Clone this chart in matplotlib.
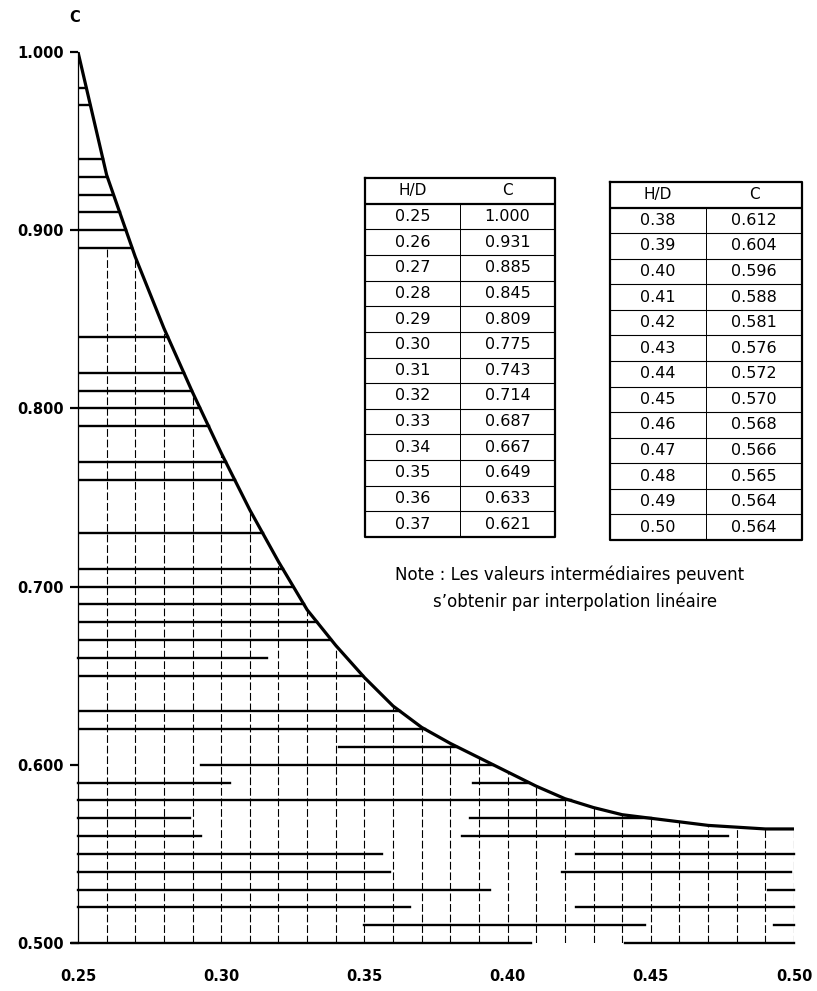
import numpy as np
import matplotlib
matplotlib.use("Agg")
import matplotlib.pyplot as plt

# Coefficient C as a function of H/D (values of the two tables)
HD = [0.25, 0.26, 0.27, 0.28, 0.29, 0.30, 0.31, 0.32, 0.33, 0.34, 0.35, 0.36, 0.37,
      0.38, 0.39, 0.40, 0.41, 0.42, 0.43, 0.44, 0.45, 0.46, 0.47, 0.48, 0.49, 0.50]
C = [1.000, 0.931, 0.885, 0.845, 0.809, 0.775, 0.743, 0.714, 0.687, 0.667, 0.649, 0.633, 0.621,
     0.612, 0.604, 0.596, 0.588, 0.581, 0.576, 0.572, 0.570, 0.568, 0.566, 0.565, 0.564, 0.564]

# hatch lines running from the C axis up to the curve
FULL_LEVELS = [0.98, 0.97, 0.94, 0.93, 0.92, 0.91, 0.90, 0.89, 0.84, 0.82, 0.81, 0.80,
               0.79, 0.77, 0.76, 0.73, 0.71, 0.70, 0.69, 0.68, 0.67, 0.65, 0.63, 0.62]

# broken hatch lines (level, from H/D, to H/D), None = up to the curve
PARTIAL_LEVELS = [
    (0.66, 0.250, 0.316),
    (0.61, 0.341, None),
    (0.60, 0.293, None),
    (0.59, 0.250, 0.303), (0.59, 0.388, None),
    (0.58, 0.250, None),
    (0.57, 0.250, 0.289), (0.57, 0.387, None),
    (0.56, 0.250, 0.293), (0.56, 0.384, 0.477),
    (0.55, 0.250, 0.356), (0.55, 0.424, 0.500),
    (0.54, 0.250, 0.359), (0.54, 0.419, 0.499),
    (0.53, 0.250, 0.394), (0.53, 0.491, 0.500),
    (0.52, 0.250, 0.366), (0.52, 0.424, 0.500),
    (0.51, 0.350, 0.448), (0.51, 0.493, 0.500),
    (0.50, 0.248, 0.408), (0.50, 0.441, 0.500),
]

VERTICAL_HD = HD[1:]
VERTICAL_TOP = 0.89

X_TICKS = [0.25, 0.30, 0.35, 0.40, 0.45, 0.50]
Y_TICKS = [0.500, 0.600, 0.700, 0.800, 0.900, 1.000]

NOTE = ["Note : Les valeurs intermédiaires peuvent",
        "s\u2019obtenir par interpolation linéaire"]

W, H = 817, 991


def px_axes(fig, left, top, right, bottom):
    return fig.add_axes([left / W, 1 - bottom / H, (right - left) / W, (bottom - top) / H])


def curve_x(level):
    return np.interp(level, C[::-1], HD[::-1])


def draw_table(fig, box, hd_vals, c_vals):
    ax = px_axes(fig, *box)
    n = len(hd_vals)
    ax.set_xlim(0, 1)
    ax.set_ylim(n + 1, 0)
    ax.axis("off")
    ax.plot([0, 1, 1, 0, 0], [0, 0, n + 1, n + 1, 0], color="black", lw=1.6,
            clip_on=False)
    ax.plot([0, 1], [1, 1], color="black", lw=1.6)
    ax.plot([0.5, 0.5], [1, n + 1], color="black", lw=0.7)
    for i in range(2, n + 1):
        ax.plot([0, 1], [i, i], color="black", lw=0.8)
    ax.text(0.25, 0.5, "H/D", ha="center", va="center", fontsize=11)
    ax.text(0.75, 0.5, "C", ha="center", va="center", fontsize=11)
    for i, (h, c) in enumerate(zip(hd_vals, c_vals)):
        ax.text(0.25, i + 1.5, f"{h:.2f}", ha="center", va="center", fontsize=11.5)
        ax.text(0.75, i + 1.5, f"{c:.3f}", ha="center", va="center", fontsize=11.5)


def main():
    fig = plt.figure(figsize=(W / 100, H / 100), dpi=100)
    ax = px_axes(fig, 78, 52, 794, 943)
    ax.set_xlim(0.25, 0.50)
    ax.set_ylim(0.50, 1.00)
    for side in ["top", "right", "bottom"]:
        ax.spines[side].set_visible(False)
    ax.spines["left"].set_linewidth(0.9)

    # curve
    ax.plot(HD, C, color="black", lw=2.3, solid_capstyle="round",
            solid_joinstyle="round", zorder=5)

    # horizontal hatching
    for lev in FULL_LEVELS:
        ax.plot([0.25, curve_x(lev)], [lev, lev], color="black", lw=1.7)
    for lev, x0, x1 in PARTIAL_LEVELS:
        if x1 is None:
            x1 = curve_x(lev)
        ax.plot([x0, x1], [lev, lev], color="black", lw=1.7, clip_on=False)

    # vertical hatching
    for h in VERTICAL_HD:
        top = min(np.interp(h, HD, C), VERTICAL_TOP)
        ax.plot([h, h], [0.50, top], color="black", lw=0.8,
                linestyle=(0, (7, 2.5)))

    ax.set_yticks(Y_TICKS)
    ax.set_yticklabels([f"{v:.3f}" for v in Y_TICKS], fontweight="bold", fontsize=10.5)
    ax.set_xticks(X_TICKS)
    ax.set_xticklabels([f"{v:.2f}" for v in X_TICKS], fontweight="bold", fontsize=10.5)
    ax.tick_params(axis="y", length=6, width=1.6, pad=4)
    ax.tick_params(axis="x", length=0, pad=19)

    fig.text(75 / W, 1 - 17 / H, "C", ha="center", va="center",
             fontweight="bold", fontsize=10.5)

    draw_table(fig, (365, 178, 555, 537), HD[:13], C[:13])
    draw_table(fig, (610, 182, 802, 540), HD[13:], C[13:])

    fig.text(570 / W, 1 - 575 / H, NOTE[0], ha="center", va="center", fontsize=12)
    fig.text(575 / W, 1 - 602 / H, NOTE[1], ha="center", va="center", fontsize=12)

    fig.savefig("out.png", dpi=100)


if __name__ == "__main__":
    main()
